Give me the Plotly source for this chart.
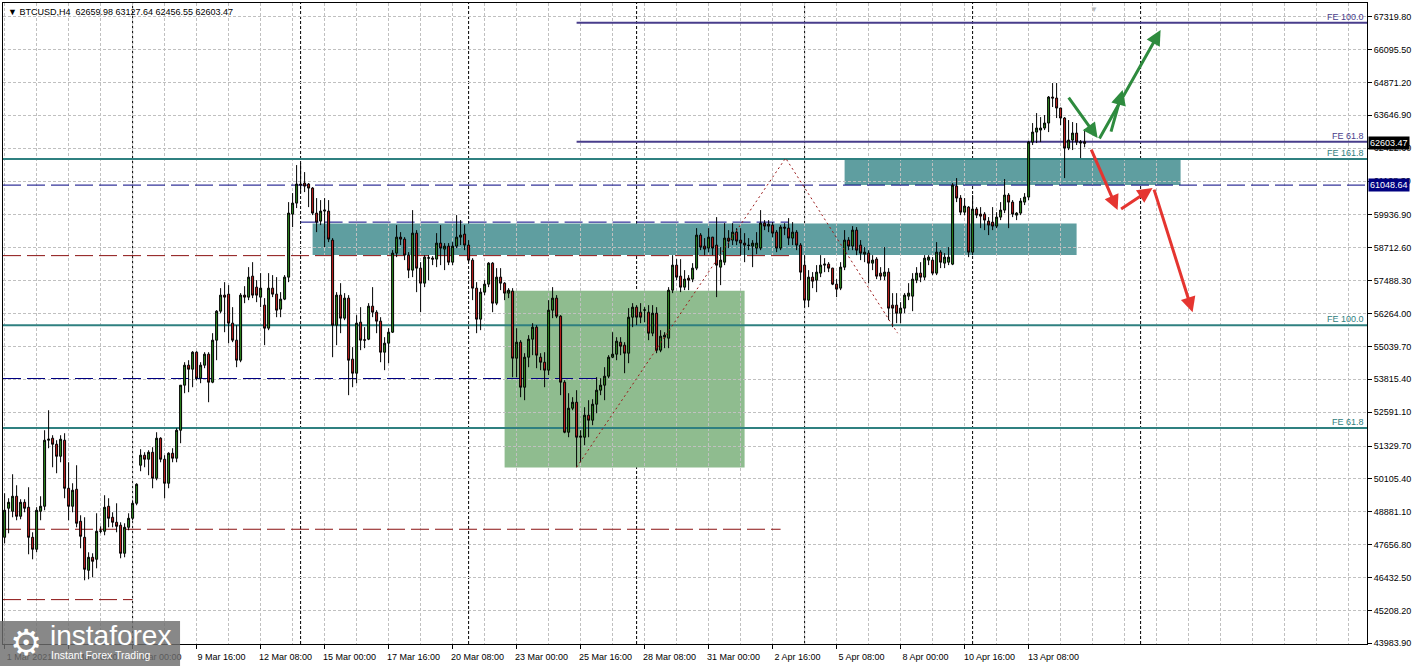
import plotly.graph_objects as go

# ---------------- DATA (BTCUSD H4, bars from 1 Mar 2021 16:00) ----------------
opens = [
    47933, 49014, 48902, 49461, 48715, 49237, 49051, 47933, 47487, 48902,
    49088, 51548, 51622, 51399, 50951, 51548, 49759, 49088, 49722, 48530,
    47933, 46704, 47188, 47114, 48157, 48157, 49088, 48678, 48492, 48381,
    47337, 48306, 48641, 49200, 50616, 50989, 50840, 51100, 50132, 51622,
    50840, 49945, 51063, 50877, 51920, 53597, 54342, 54193, 54826, 53858,
    54342, 54752, 53708, 55274, 56354, 56951, 56988, 55907, 55274, 54528,
    56951, 56876, 57658, 57248, 56876, 56578, 55721, 57211, 56988, 56429,
    56802, 57621, 59968, 60378, 61086, 61123, 61086, 60937, 60005, 59708,
    60080, 60080, 59000, 55833, 56951, 56093, 56839, 54566, 54044, 55944,
    55290, 55311, 56540, 56316, 55982, 54826, 55162, 55571, 58515, 59111,
    59037, 58441, 57882, 59260, 57956, 57397, 58329, 58329, 58292, 58888,
    58665, 58776, 58179, 58776, 59111, 59223, 58814, 58254, 57211, 56056,
    57062, 57360, 58142, 56652, 57621, 57397, 57025, 57100, 54603, 55199,
    53522, 54640, 55311, 55758, 54640, 54453, 54156, 56391, 56839, 56167,
    53708, 51845, 52740, 52963, 51659, 51659, 52479, 52293, 52889, 53411,
    53597, 53932, 54640, 54752, 55199, 55088, 54789, 56130, 56503, 56316,
    56391, 56316, 55534, 56279, 54901, 55385, 55348, 57137, 58068, 57658,
    57248, 57584, 57547, 57956, 59186, 58776, 58702, 59111, 58814, 57993,
    58179, 59074, 59000, 59297, 59000, 58888, 58814, 58776, 58702, 58702,
    59633, 59521, 59559, 59297, 58702, 59484, 59447, 59074, 59297, 58814,
    58068, 56764, 57621, 57509, 57770, 58068, 58105, 57956, 57360, 57211,
    57993, 59000, 58776, 59372, 58814, 58478, 58515, 58142, 58292, 57770,
    57658, 57807, 56578, 56578, 56279, 56466, 56913, 56913, 57509, 57770,
    57621, 58254, 58254, 57770, 58552, 58142, 58179, 58105, 61011, 60565,
    60042, 60229, 58552, 60155, 59968, 59968, 59708, 59670, 59521, 59856,
    60117, 60677, 60415, 59931, 60005, 60415, 60602, 62651, 63023, 63098,
    63173, 63359, 64328, 64290, 63918, 63545, 62428, 62726, 62986, 62614,
    62659.98,
]
highs = [
    49573, 49387, 50281, 49871, 49350, 49350, 49796, 48119, 49051, 49461,
    51920, 52665, 51734, 51548, 51734, 51808, 50727, 49945, 50616, 48753,
    48678, 47374, 47337, 48827, 48343, 49499, 49387, 48864, 49200, 48492,
    48455, 48827, 49312, 49945, 51213, 51100, 51175, 51287, 51845, 51659,
    50989, 51100, 51250, 51995, 53597, 54453, 54528, 54864, 54864, 54453,
    54826, 54826, 55534, 56391, 57211, 57434, 57323, 56503, 55833, 57025,
    57285, 57993, 58179, 57509, 57770, 56839, 57770, 57696, 57621, 57062,
    57696, 60415, 60751, 61794, 61868, 61533, 61123, 60974, 60565, 60490,
    60565, 60490, 59074, 57062, 57397, 57025, 56951, 55013, 56205, 56503,
    55758, 56652, 57248, 56391, 56130, 55385, 55721, 58627, 59559, 59297,
    59111, 58552, 60117, 59372, 58179, 58441, 58441, 58403, 59260, 59559,
    58888, 58888, 58925, 59931, 59745, 59559, 59000, 58329, 57434, 57211,
    57509, 58179, 58179, 57956, 57956, 57434, 57211, 57211, 55721, 55274,
    54789, 55460, 55907, 55833, 54789, 54826, 56764, 57248, 56951, 56205,
    53783, 53299, 53150, 53411, 51920, 52777, 53038, 53076, 53895, 53858,
    54267, 54715, 55571, 55385, 55385, 55199, 56466, 56652, 56578, 56652,
    56503, 56578, 56578, 56503, 55646, 55571, 57248, 58441, 58292, 58292,
    57882, 57696, 58142, 59447, 59260, 59074, 59447, 59120, 59856, 58739,
    59633, 59372, 59633, 59447, 59447, 59260, 59074, 59000, 59297, 60117,
    59745, 59745, 59670, 59372, 59559, 59633, 59819, 59670, 59372, 58888,
    58441, 57882, 57807, 58068, 58441, 58329, 58179, 57970, 57547, 58179,
    59372, 59111, 59521, 59484, 59000, 58739, 58627, 58441, 58366, 57993,
    58739, 57956, 57025, 57025, 56689, 57025, 57397, 57770, 57993, 58179,
    58441, 58441, 58366, 58925, 58627, 58515, 58739, 61123, 61310, 60677,
    60565, 60266, 60677, 60229, 60229, 60042, 59856, 60229, 60042, 60415,
    61273, 60751, 60490, 60042, 60565, 60751, 62689, 63359, 63731, 63582,
    63657, 64365, 64849, 64849, 63930, 63582, 63471, 63396, 63359, 62726,
    63127.64,
]
lows = [
    47710, 48082, 48678, 48567, 48604, 48864, 47300, 47114, 47374, 48567,
    48939, 51250, 50541, 50318, 50727, 49387, 48567, 48864, 48306, 47524,
    46331, 46369, 46443, 46778, 48082, 48008, 48306, 48306, 48119, 47151,
    47188, 48194, 48567, 49126, 50393, 50541, 50244, 49759, 50057, 50727,
    49387, 49759, 50727, 50727, 51436, 53299, 53336, 53522, 53783, 53671,
    54230, 52963, 53671, 54528, 56279, 55571, 55162, 55199, 54267, 54453,
    56652, 56764, 56839, 56689, 56503, 55088, 55646, 56876, 56130, 56130,
    56764, 57434, 59484, 60192, 60751, 60788, 60229, 59931, 59297, 59559,
    58739, 58925, 54640, 55088, 55534, 56019, 53225, 53522, 53671, 54901,
    54976, 55274, 56130, 55534, 54453, 54156, 54416, 55540, 58366, 58814,
    58254, 57584, 57621, 57062, 56316, 57248, 57509, 58068, 57993, 58068,
    57882, 58068, 58068, 58702, 58814, 58627, 58179, 56764, 55534, 55646,
    56951, 57248, 56316, 56578, 57137, 56764, 56839, 53895, 53895, 53150,
    53038, 54267, 54715, 54230, 54156, 53522, 53970, 56093, 56093, 53225,
    51808, 51659, 52665, 50541, 50727, 51362, 51659, 52107, 52553, 53225,
    53038, 53858, 54603, 54528, 54715, 54044, 54416, 55758, 55833, 55907,
    55944, 55274, 55422, 54789, 54826, 54976, 54976, 57025, 57509, 57062,
    57137, 57137, 57434, 57882, 58627, 58441, 58552, 58441, 56876, 57323,
    58068, 58702, 58814, 58814, 58441, 58179, 58627, 57993, 58478, 58627,
    59372, 59297, 59111, 58552, 58627, 59186, 58814, 58814, 58627, 57509,
    56503, 56503, 57211, 57062, 57621, 57807, 57807, 57323, 56876, 57137,
    57882, 58627, 58627, 58441, 58254, 58179, 57397, 57882, 57547, 57509,
    57509, 56019, 55758, 55907, 55907, 56279, 56764, 56354, 57397, 57434,
    57509, 58068, 57696, 57696, 57956, 57956, 58068, 58068, 60415, 59931,
    59931, 58366, 58441, 59819, 59447, 59372, 59186, 59372, 59447, 59745,
    60005, 59447, 59856, 59745, 59931, 60304, 60490, 62540, 62614, 62651,
    63098, 63023, 63955, 63545, 63285, 61310, 62353, 62353, 62540, 62055,
    62456.55,
]
closes = [
    48939, 49237, 49461, 48715, 49237, 49014, 47933, 47487, 48939, 49088,
    51548, 51585, 51399, 50951, 51585, 49759, 49088, 49685, 48455, 47970,
    46741, 47188, 47039, 48157, 48170, 49051, 48641, 48492, 48343, 47337,
    48306, 48641, 49200, 49908, 50989, 50840, 51100, 50132, 51622, 50840,
    49945, 51063, 50877, 51920, 53597, 54342, 54193, 54826, 53858, 54342,
    54752, 53708, 55274, 56354, 56951, 56876, 55907, 55274, 54528, 56951,
    56876, 57621, 56951, 56951, 57211, 55721, 57211, 56988, 56391, 56802,
    57621, 60005, 60378, 61086, 61049, 61011, 60937, 60005, 59670, 60080,
    60117, 59037, 55833, 56951, 56093, 56839, 54528, 54044, 55907, 55274,
    55274, 56540, 56316, 55982, 54826, 55162, 55571, 58515, 59111, 59037,
    58441, 57882, 59260, 57956, 57397, 58366, 58340, 58292, 58888, 58702,
    58776, 58179, 58776, 59111, 59186, 58814, 58254, 57211, 56056, 57062,
    57360, 58142, 56652, 57621, 57397, 57025, 57137, 54603, 55199, 53522,
    54640, 55311, 55758, 54715, 54453, 54156, 56391, 56839, 56167, 53708,
    51845, 52740, 52963, 51659, 51696, 52479, 52293, 52889, 53411, 53597,
    53932, 54640, 54752, 55237, 55050, 54789, 56130, 56503, 56130, 56130,
    56400, 55534, 56279, 54901, 55422, 55460, 57137, 58068, 57621, 57248,
    57547, 57509, 57956, 59186, 58739, 58665, 59111, 58702, 58068, 58254,
    59074, 58963, 59297, 58963, 58888, 58814, 58800, 58888, 58888, 59633,
    59521, 59596, 59260, 58702, 59484, 59447, 59074, 59297, 58814, 57807,
    56764, 57621, 57472, 57807, 58068, 58105, 57956, 57360, 57174, 57993,
    59000, 58776, 59372, 58627, 58515, 58552, 58142, 58254, 57658, 57658,
    57807, 56466, 56466, 56279, 56466, 56951, 57025, 57547, 57770, 57621,
    58329, 58366, 57770, 58552, 58179, 58366, 58366, 61049, 60565, 60042,
    60266, 58552, 60155, 59931, 59893, 59745, 59559, 59521, 59856, 60117,
    60677, 60415, 59968, 60005, 60453, 60602, 62651, 63023, 63173, 63173,
    63359, 64328, 64290, 63918, 63545, 62428, 62726, 62986, 62651, 62651,
    62603.47,
]
bar_index = list(range(len(closes)))

x_tick_bars = [0, 16, 32, 48, 64, 80, 96, 112, 128, 144, 160, 176, 192, 208, 224, 240, 256]
x_tick_labels = ["1 Mar 2021", "4 Mar 08:00", "7 Mar 00:00", "9 Mar 16:00", "12 Mar 08:00",
                 "15 Mar 00:00", "17 Mar 16:00", "20 Mar 08:00", "23 Mar 00:00", "25 Mar 16:00",
                 "28 Mar 08:00", "31 Mar 00:00", "2 Apr 16:00", "5 Apr 08:00", "8 Apr 00:00",
                 "10 Apr 16:00", "13 Apr 08:00"]
y_tick_values = [67319.80, 66095.50, 64871.20, 63646.90, 62422.60, 61198.30, 59936.90,
                 58712.60, 57488.30, 56264.00, 55039.70, 53815.40, 52591.10, 51329.70,
                 50105.40, 48881.10, 47656.80, 46432.50, 45208.20, 43983.90]

title_text = "BTCUSD,H4&nbsp;&nbsp;62659.98 63127.64 62456.55 62603.47"
last_price = 62603.47
marked_level = 61048.64

teal_fe_names = ["FE 161.8", "FE 100.0", "FE 61.8"]
teal_fe_levels = [62018, 55832, 52006]
purple_fe_names = ["FE 100.0", "FE 61.8"]
purple_fe_levels = [67090, 62660]
purple_fe_start = 143

navy_levels = [61048.64, 59670, 53846]
navy_from = [None, 74, None]
navy_to = [None, 196, 148.5]
maroon_levels = [58422, 48232, 45612]
maroon_to = [196.5, 194, 32]

week_separators = [32, 74, 116, 158, 200, 242, 284]

zigzag_x = [143, 195.25, 223.25]
zigzag_y = [50541, 62055, 55534]

# zones: (x0, x1, y0, y1)
teal_zones = [(77, 268, 58441, 59622), (210, 294, 61048.64, 62018)]
green_zone = (125, 185, 50530, 57111)

# arrows: (tail_x, tail_y, head_x, head_y)
green_arrows = [(265.75, 64365, 273.25, 62800), (273.5, 62726, 289, 66824), (276.5, 62986, 279.5, 64589)]
red_arrows = [(271.5, 62428, 278.25, 60117), (278.75, 60117, 287, 60937), (287.25, 60937, 297, 56317)]

# ---------------- STYLE ----------------
FONT = "Liberation Sans, Arial, sans-serif"
TEAL = "#2F8080"
PURPLE = "#483D8B"
NAVY = "#000080"
MAROON = "#8B1010"
GRID = "#C0C0C0"
XR = [-0.4, 340.6]
YR = [43959, 67830]

fig = go.Figure()
fig.add_trace(go.Candlestick(
    x=bar_index, open=opens, high=highs, low=lows, close=closes,
    increasing=dict(line=dict(color="black", width=1), fillcolor="#2E8B1E"),
    decreasing=dict(line=dict(color="black", width=1), fillcolor="#C8201E"),
    whiskerwidth=0, showlegend=False, hoverinfo="skip",
))
fig.add_trace(go.Scatter(
    x=zigzag_x, y=zigzag_y, mode="lines",
    line=dict(color="#9B1B1B", width=1, dash="2px,3px"),
    showlegend=False, hoverinfo="skip",
))

shapes = []
for x0, x1, y0, y1 in teal_zones:
    shapes.append(dict(type="rect", xref="x", yref="y", x0=x0, x1=x1, y0=y0, y1=y1,
                       fillcolor="#5F9EA0", line=dict(width=0), layer="below"))
shapes.append(dict(type="rect", xref="x", yref="y", x0=green_zone[0], x1=green_zone[1],
                   y0=green_zone[2], y1=green_zone[3], fillcolor="#8FBC8F",
                   line=dict(width=0), layer="below"))
for s in week_separators:
    shapes.append(dict(type="line", xref="x", yref="paper", x0=s, x1=s, y0=0, y1=1,
                       line=dict(color="black", width=1, dash="3px,2px"), layer="between"))
for lvl, a, b in zip(navy_levels, navy_from, navy_to):
    shapes.append(dict(type="line", xref="x", yref="y",
                       x0=XR[0] if a is None else a, x1=XR[1] if b is None else b,
                       y0=lvl, y1=lvl, line=dict(color=NAVY, width=1, dash="18px,6px"),
                       layer="between"))
for lvl, b in zip(maroon_levels, maroon_to):
    shapes.append(dict(type="line", xref="x", yref="y", x0=XR[0], x1=b, y0=lvl, y1=lvl,
                       line=dict(color=MAROON, width=1, dash="18px,6px"), layer="between"))
for lvl in teal_fe_levels:
    shapes.append(dict(type="line", xref="x", yref="y", x0=XR[0], x1=XR[1], y0=lvl, y1=lvl,
                       line=dict(color=TEAL, width=2), layer="between"))
for lvl in purple_fe_levels:
    shapes.append(dict(type="line", xref="x", yref="y", x0=purple_fe_start, x1=XR[1], y0=lvl, y1=lvl,
                       line=dict(color=PURPLE, width=2), layer="between"))
shapes.append(dict(type="rect", xref="paper", yref="paper", x0=-0.0022, x1=0.1298,
                   y0=-0.0343, y1=0.0359, fillcolor="rgba(110,110,110,0.82)",
                   line=dict(width=0), layer="above"))

ann = []
ann.append(dict(xref="paper", yref="paper", x=0, y=1, xanchor="left", yanchor="middle",
                xshift=3, yshift=-8.7, showarrow=False,
                text="▼ " + title_text, font=dict(family=FONT, size=9, color="black")))
ann.append(dict(xref="x", yref="paper", x=272.25, y=1, xanchor="center", yanchor="top",
                showarrow=False, text="▼", font=dict(family=FONT, size=8, color="#B8B8B8")))
for name, lvl in zip(teal_fe_names, teal_fe_levels):
    ann.append(dict(xref="paper", yref="y", x=1, y=lvl, xanchor="right", yanchor="bottom",
                    xshift=-1, yshift=-1, showarrow=False, text=name,
                    font=dict(family=FONT, size=9, color=TEAL)))
for name, lvl in zip(purple_fe_names, purple_fe_levels):
    ann.append(dict(xref="paper", yref="y", x=1, y=lvl, xanchor="right", yanchor="bottom",
                    xshift=-1, yshift=-1, showarrow=False, text=name,
                    font=dict(family=FONT, size=9, color=PURPLE)))
ann.append(dict(xref="paper", yref="y", x=1, y=last_price, xanchor="left", yanchor="middle",
                xshift=1, showarrow=False, text="%.2f" % last_price, bgcolor="black",
                borderpad=1, font=dict(family=FONT, size=9, color="white")))
ann.append(dict(xref="paper", yref="y", x=1, y=marked_level, xanchor="left", yanchor="middle",
                xshift=1, showarrow=False, text="%.2f" % marked_level, bgcolor=NAVY,
                borderpad=1, font=dict(family=FONT, size=9, color="white")))
for tx, ty, hx, hy in green_arrows:
    ann.append(dict(xref="x", yref="y", axref="x", ayref="y", x=hx, y=hy, ax=tx, ay=ty,
                    text="", showarrow=True, arrowhead=2, arrowsize=1, arrowwidth=3,
                    arrowcolor="#2E8B3E"))
for tx, ty, hx, hy in red_arrows:
    ann.append(dict(xref="x", yref="y", axref="x", ayref="y", x=hx, y=hy, ax=tx, ay=ty,
                    text="", showarrow=True, arrowhead=2, arrowsize=1, arrowwidth=3,
                    arrowcolor="#E53530"))
ann.append(dict(xref="paper", yref="paper", x=0.0037, y=0.0016, xanchor="left", yanchor="middle",
                showarrow=False, text="⚙", font=dict(family="DejaVu Sans", size=36, color="white")))
ann.append(dict(xref="paper", yref="paper", x=0.033, y=0.0125, xanchor="left", yanchor="middle",
                showarrow=False, text="instaforex", font=dict(family=FONT, size=28, color="white")))
ann.append(dict(xref="paper", yref="paper", x=0.034, y=-0.0172, xanchor="left", yanchor="middle",
                showarrow=False, text="Instant Forex Trading", font=dict(family=FONT, size=10.5, color="white")))

fig.update_layout(
    width=1419, height=666,
    margin=dict(l=3, r=52, t=3, b=22),
    paper_bgcolor="white", plot_bgcolor="white",
    shapes=shapes, annotations=ann, showlegend=False,
    xaxis=dict(
        range=XR, rangeslider=dict(visible=False), zeroline=False,
        tickmode="array", tickvals=x_tick_bars, ticktext=x_tick_labels,
        ticks="outside", ticklen=4, tickcolor="black", tickangle=0,
        ticklabelshift=25, tickfont=dict(family=FONT, size=9, color="black"),
        showgrid=True, gridcolor=GRID, griddash="3px,2px", gridwidth=1,
        minor=dict(tick0=0, dtick=8, showgrid=True, gridcolor=GRID, griddash="3px,2px", ticks=""),
        showline=True, linecolor="black", linewidth=1, mirror=True,
    ),
    yaxis=dict(
        range=YR, side="right", zeroline=False,
        tickmode="array", tickvals=y_tick_values, ticktext=["%.2f" % v for v in y_tick_values],
        ticks="outside", ticklen=4, tickcolor="black",
        tickfont=dict(family=FONT, size=9, color="black"),
        showgrid=True, gridcolor=GRID, griddash="3px,2px", gridwidth=1,
        showline=True, linecolor="black", linewidth=1, mirror=True,
    ),
)

fig.write_html(
    "out.html",
    config={"displayModeBar": False},
    post_script="document.body.style.margin='0';document.body.style.overflow='hidden';",
)
